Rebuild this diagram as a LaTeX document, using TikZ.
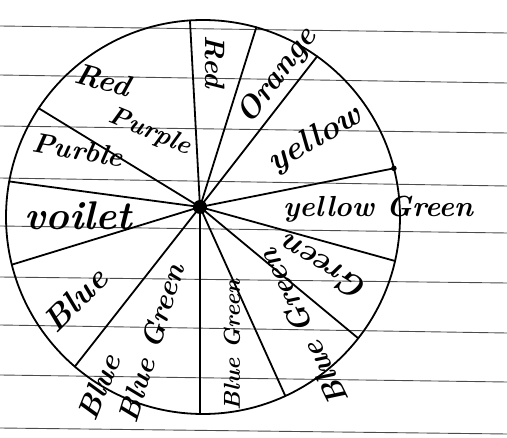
\documentclass[tikz,border=0pt]{standalone}
\usetikzlibrary{calc}
\begin{document}
\begin{tikzpicture}[x=1pt,y=-1pt,
  rule/.style={draw=black!70,line width=0.9pt},
  pen/.style={draw=black,line width=1.8pt,line cap=round},
  lab/.style={inner sep=0pt},
  fs/.style={font=\bfseries\itshape\fontsize{#1}{#1}\selectfont}]
\useasboundingbox[fill=white] (0,0) rectangle (507,438);
% ruled notebook lines
\foreach \yl/\yr in {26/33,75/83,126/133,178/186,226/233,277/283,325/333,375/382,428/434}
  \draw[rule] (0,\yl) -- (507,\yr);
% wheel
\coordinate (C) at (203,217);
\draw[pen] (C) circle (197pt);
\node[circle,fill=black,minimum size=14pt,inner sep=0pt] (H) at (200,207) {};
\foreach \a [count=\i] in {93.8,74.3,54.6,14.3,-12.9,-38,-65.3,-90.9,-130.6,194,169.6,146.5}
  \coordinate (s\i) at ($(C)+(-\a:197)$);
\foreach \i in {1,...,12}
  \draw[pen] (H.center) -- (s\i);
\fill (s4) circle (2.8pt);
% labels
\node[lab,fs=30,rotate=-15] (lRed1) at (103,80) {Red};
\node[lab,fs=26,rotate=-22] (lPurple1) at (150,132) {Purple};
\node[lab,fs=28,rotate=-90] (lRed2) at (215,62) {Red};
\node[lab,fs=31,rotate=53] (lOrange) at (278,76) {Orange};
\node[lab,fs=33,rotate=30] (lYellow) at (315,140) {yellow};
\node[lab,fs=29] (lYG) at (378,209) {yellow Green};
\node[lab,fs=32,rotate=148] (lGreen) at (324,268) {Green};
\node[lab,fs=30,rotate=116] (lBG1) at (303,328) {Blue Green};
\node[lab,fs=23,rotate=90] (lBG2) at (232,345) {Blue Green};
\node[lab,fs=29,rotate=73] (lBG3) at (151,343) {Blue Green};
\node[lab,fs=30,rotate=68] (lBlue1) at (99,387) {Blue};
\node[lab,fs=33,rotate=45] (lBlue2) at (75,300) {Blue};
\node[lab,fs=40] (lViolet) at (78,216) {voilet};
\node[lab,fs=28,rotate=-10] (lPurble) at (78,150) {Purble};
\end{tikzpicture}
\end{document}
